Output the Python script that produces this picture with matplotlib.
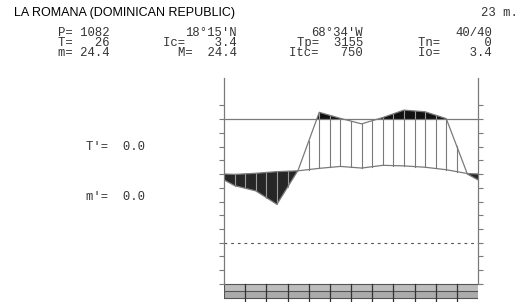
import numpy as np
import matplotlib
matplotlib.use('Agg')
from matplotlib import pyplot as plt
from matplotlib.patches import Rectangle

# monthly values (temperature in degC, rain on the 2:1 scale in mm)
months = np.arange(1, 13)
temp = [24.9, 25.3, 25.9, 26.2, 27.1, 27.8, 27.2, 28.2, 28.0, 27.5, 26.6, 25.2]
rain = [41.6, 37.8, 28.0, 52.8, 95.0, 90.6, 86.6, 91.2, 96.6, 95.4, 90.4, 50.0]

station = 'LA ROMANA (DOMINICAN REPUBLIC)'
altitude = '23 m.'
info_rows = [
    ['P= 1082', "18°15'N", "68°34'W", '40/40'],
    ['T=   26', 'Ic=    3.4', 'Tp=  3155', 'Tn=      0'],
    ['m= 24.4', 'M=  24.4', 'Itc=   750', 'Io=    3.4'],
]
side_labels = ["T'=  0.0", "m'=  0.0"]

W, H = 528, 302
fig = plt.figure(figsize=(W / 100, H / 100), dpi=100)

ax = fig.add_axes([224 / W, 0, 254 / W, 224 / H])
px = 2.746  # pixels per degree
ytop = 60
ybot = ytop - 224 / px
ax.set_xlim(0.5, 12.5)
ax.set_ylim(ybot, ytop)

gray = '#7a7a7a'
# wrap the year so the curves run to the edges
x = np.concatenate([[0], months, [13]])
t = np.array([temp[-1]] + temp + [temp[0]])
p = np.array([rain[-1]] + rain + [rain[0]]) / 2.0

ax.fill_between(x, 45, p, where=p > 45, interpolate=True, color='#111111', lw=0)
ax.fill_between(x, p, t, where=p < t, interpolate=True, color='#262626', lw=0)

for m in np.arange(1.0, 12.5, 0.5):
    pv = np.interp(m, x, p)
    tv = np.interp(m, x, t)
    if pv > tv + 0.3:
        ax.plot([m, m], [tv, min(pv, 45)], color=gray, lw=0.8)
        if pv > 45.3:
            ax.plot([m, m], [45, pv], color='#9a9a9a', lw=0.8)
    elif pv < tv - 0.3:
        ax.plot([m, m], [pv, tv], color='#9a9a9a', lw=0.8)

ax.plot(x, t, color=gray, lw=0.9)
ax.plot(x, p, color=gray, lw=0.9)
ax.axhline(45, color=gray, lw=0.9)
ax.axhline(0, color='#555555', lw=0.8, linestyle=(0, (2.5, 3.5)))

# frost bar under the axis
bar_h = 14 / px
ax.add_patch(Rectangle((0.5, -15 - bar_h / 2), 12, bar_h / 2, facecolor='#bdbdbd', edgecolor='none'))
ax.add_patch(Rectangle((0.5, -15 - bar_h), 12, bar_h / 2, facecolor='#ababab', edgecolor='none'))
for yy in [-15, -15 - bar_h / 2, -15 - bar_h]:
    ax.plot([0.5, 12.5], [yy, yy], color='#555555', lw=0.8)
for b in np.arange(1.5, 12.5, 1.0):
    ax.plot([b, b], [-15, ybot], color='#333333', lw=0.9, clip_on=False)
ax.plot([0.5, 0.5], [-15, -15 - bar_h], color='#555555', lw=0.8)

for s in ['top', 'bottom']:
    ax.spines[s].set_visible(False)
for s in ['left', 'right']:
    ax.spines[s].set_color(gray)
    ax.spines[s].set_linewidth(0.9)
    ax.spines[s].set_bounds(-15, 60)
ax.set_xticks([])
ax.set_yticks(np.arange(-15, 51, 5))
ax.tick_params(axis='y', which='both', left=True, right=True, direction='out',
               length=3.6, width=0.8, color=gray, labelleft=False, labelright=False)

mono = 'Liberation Mono'
fs = 8.8
fig.text(14 / W, 1 - 15.7 / H, station, family='Liberation Sans', fontsize=9, va='baseline', ha='left')
fig.text(518 / W, 1 - 15.7 / H, altitude, family=mono, fontsize=fs, va='baseline', ha='right', color='#333333')

col_right = [110, 237, 363, 492]
row_base = [36, 46, 56]
for r, row in enumerate(info_rows):
    for c, txt in enumerate(row):
        fig.text(col_right[c] / W, 1 - row_base[r] / H, txt, family=mono, fontsize=fs,
                 va='baseline', ha='right', color='#333333')

for lab, yy in zip(side_labels, [150, 200.5]):
    fig.text(86 / W, 1 - yy / H, lab, family=mono, fontsize=fs, va='baseline', ha='left', color='#333333')

fig.savefig('out.png', dpi=100)
